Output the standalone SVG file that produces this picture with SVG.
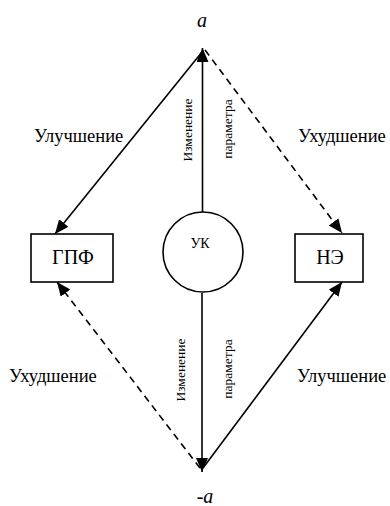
<svg xmlns="http://www.w3.org/2000/svg" width="390" height="506" viewBox="0 0 390 506">
<defs>
<marker id="ah" markerUnits="userSpaceOnUse" markerWidth="16" markerHeight="13" refX="14" refY="6" orient="auto">
<path d="M0,0 L14,6 L0,12 Z" fill="#000"/>
</marker>
<style>
.ln{stroke:#000;stroke-width:1.6;fill:none}
.dash{stroke-dasharray:7,5}
.box{fill:#fff;stroke:#000;stroke-width:1.6}
text{font-family:"Liberation Serif","Times New Roman",serif;fill:#000}
.lbl{font-size:18.5px}
.nd{font-size:20px;text-anchor:middle}
.v{font-size:13.5px;text-anchor:middle}
.it{font-style:italic;font-size:20px;text-anchor:middle}
</style>
</defs>
<rect width="390" height="506" fill="#fff"/>
<g id="connectors">
<line class="ln" x1="202.5" y1="212" x2="202.5" y2="48" marker-end="url(#ah)"/>
<line class="ln" x1="202" y1="293" x2="202" y2="472" marker-end="url(#ah)"/>
<line class="ln" x1="202" y1="52" x2="55" y2="234" marker-end="url(#ah)"/>
<line class="ln dash" x1="205" y1="50" x2="342" y2="233" marker-end="url(#ah)"/>
<line class="ln dash" x1="200" y1="468" x2="57" y2="282" marker-end="url(#ah)"/>
<line class="ln" x1="203" y1="468" x2="342" y2="282" marker-end="url(#ah)"/>
</g>
<g id="node-a"><text class="it" x="202" y="27">a</text></g>
<g id="node-minus-a"><text class="it" x="205" y="503">-a</text></g>
<g id="node-gpf">
<rect class="box" x="31" y="234" width="82" height="48"/>
<text class="nd" x="73" y="264">ГПФ</text>
</g>
<g id="node-ne">
<rect class="box" x="295" y="234" width="68" height="48"/>
<text class="nd" x="330" y="264">НЭ</text>
</g>
<g id="node-uk">
<circle class="box" cx="203" cy="252" r="40"/>
<text x="200" y="248" font-size="14" text-anchor="middle">УК</text>
</g>
<g id="labels">
<text class="lbl" x="34" y="142">Улучшение</text>
<text class="lbl" x="298" y="142">Ухудшение</text>
<text class="lbl" x="9" y="382">Ухудшение</text>
<text class="lbl" x="297" y="382">Улучшение</text>
<text class="v" transform="translate(192,130) rotate(-90)">Изменение</text>
<text class="v" transform="translate(231.5,129) rotate(-90)">параметра</text>
<text class="v" transform="translate(185,370) rotate(-90)">Изменение</text>
<text class="v" transform="translate(231.5,369) rotate(-90)">параметра</text>
</g>
</svg>
